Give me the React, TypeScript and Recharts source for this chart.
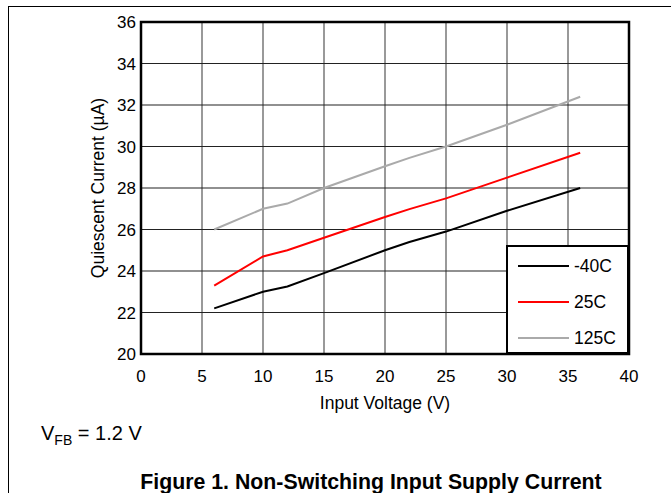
import React from 'react';
import { LineChart, Line, XAxis, YAxis, CartesianGrid, ReferenceArea } from 'recharts';

const voltage = [6, 10, 12, 15, 20, 22, 25, 30, 36];
const iqMinus40 = [22.2, 23.0, 23.25, 23.9, 25.0, 25.4, 25.9, 26.9, 28.0];
const iq25 = [23.3, 24.7, 25.0, 25.6, 26.6, 26.98, 27.5, 28.5, 29.7];
const iq125 = [26.0, 27.0, 27.25, 28.0, 29.05, 29.45, 30.0, 31.05, 32.4];

const xTicks = [0, 5, 10, 15, 20, 25, 30, 35, 40];
const yTicks = [20, 22, 24, 26, 28, 30, 32, 34, 36];

const seriesNames = ['-40C', '25C', '125C'];
const seriesKeys = ['m40', 't25', 't125'];
const seriesColors = ['#000000', '#ff0000', '#aaaaaa'];

const data = voltage.map((v, i) => ({ v, m40: iqMinus40[i], t25: iq25[i], t125: iq125[i] }));

const FONT = '"Liberation Sans", Arial, sans-serif';

export default function App() {
  return (
    <div style={{ position: 'absolute', left: 0, top: 0, width: 671, height: 493, background: '#fff', fontFamily: FONT, overflow: 'hidden' }}>
      <div style={{ position: 'absolute', left: 8, top: 6, width: 663, height: 1, background: '#000' }} />
      <div style={{ position: 'absolute', left: 8, top: 6, width: 1, height: 487, background: '#000' }} />
      <div style={{ position: 'absolute', left: 0, top: 0 }}>
        <LineChart width={671} height={493} data={data} margin={{ top: 22, right: 42, left: 54, bottom: 109 }} style={{ fontFamily: FONT }}>
          <CartesianGrid horizontal={false} vertical={true} stroke="#777" strokeWidth={1.5} verticalValues={xTicks} />
          <CartesianGrid horizontal={true} vertical={false} stroke="#222" strokeWidth={1.2} horizontalValues={yTicks} />
          <XAxis
            dataKey="v"
            type="number"
            domain={[0, 40]}
            ticks={xTicks}
            height={30}
            axisLine={false}
            tickLine={false}
            tickSize={6}
            tickMargin={10}
            tick={{ fill: '#000', fontSize: 17, fontFamily: FONT }}
            label={{ value: 'Input Voltage (V)', position: 'bottom', offset: 13, fill: '#000', fontSize: 17.5, fontFamily: FONT }}
          />
          <YAxis
            type="number"
            domain={[20, 36]}
            ticks={yTicks}
            width={87}
            axisLine={false}
            tickLine={false}
            tickSize={5}
            tickMargin={0}
            tick={{ fill: '#000', fontSize: 17, fontFamily: FONT }}
            label={{ value: 'Quiescent Current (µA)', angle: -90, position: 'center', fill: '#000', fontSize: 17.5, fontFamily: FONT }}
          />
          <ReferenceArea x1={0} x2={40} y1={20} y2={36} fill="none" stroke="#000" strokeWidth={2.5} ifOverflow="visible" />
          {seriesKeys.map((k, i) => (
            <Line key={k} dataKey={k} name={seriesNames[i]} stroke={seriesColors[i]} strokeWidth={2} dot={false} activeDot={false} isAnimationActive={false} type="linear" />
          ))}
        </LineChart>
      </div>
      <div style={{ position: 'absolute', left: 506, top: 245, width: 123, height: 109, boxSizing: 'border-box', border: '2.5px solid #000', background: '#fff' }}>
        {seriesNames.map((n, i) => (
          <div key={n} style={{ position: 'absolute', left: 10, top: 19 - 12 + i * 36, height: 24, display: 'flex', alignItems: 'center' }}>
            <div style={{ width: 51, height: 2, background: seriesColors[i] }} />
            <span style={{ marginLeft: 5, fontSize: 17.5, color: '#000' }}>{n}</span>
          </div>
        ))}
      </div>
      <div style={{ position: 'absolute', left: 41, top: 422, fontSize: 20, color: '#000', whiteSpace: 'nowrap' }}>
        V<span style={{ fontSize: 14, position: 'relative', top: 5 }}>FB</span> = 1.2 V
      </div>
      <div style={{ position: 'absolute', left: 0, width: 742, top: 470, textAlign: 'center', fontSize: 21.3, fontWeight: 'bold', color: '#000', whiteSpace: 'nowrap' }}>
        Figure 1. Non-Switching Input Supply Current
      </div>
    </div>
  );
}
